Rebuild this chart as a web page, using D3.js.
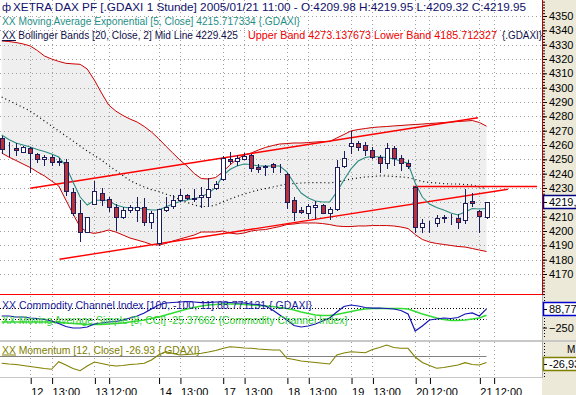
<!DOCTYPE html>
<html>
<head>
<meta charset="utf-8">
<script src="https://cdn.jsdelivr.net/npm/d3@7"></script>
<style>
  body { margin: 0; background: #fff; overflow: hidden; }
  svg { display: block; }
  text { font-family: "Liberation Sans", Arial, sans-serif; }
</style>
</head>
<body>
<div id="chart-area"></div>
<script>
// hourly bars, 2005/01/11 15:00 .. 2005/01/21 11:00
var opens = [4264.7,4257.5,4257.7,4255.3,4257.7,4253.5,4250,4251.4,4248.8,4248.4,
  4227.4,4212.3,4199.5,4218.6,4226.7,4222.1,4216.5,4210,4214.7,4215,
  4216.5,4206.5,4191.4,4214.7,4217.4,4221.6,4225.1,4222.8,4223.5,4224,
  4229.8,4236,4250.5,4249,4250.5,4253,4244.9,4245.3,4246.5,4245.5,
  4239.8,4221.6,4214.7,4212.3,4216.5,4218.1,4212.8,4215.1,4245.6,4259.5,
  4261.2,4260,4256.5,4251.8,4247.6,4257.7,4250.7,4247.6,4230.9,4203,
  4205.3,4205.8,4210,4210,4208.8,4207.7,4221.2,4214,4209.98];
var highs = [4266,4262,4261.2,4259,4258.8,4254.5,4253,4253,4251,4250,
  4230,4221.6,4210,4234.9,4230,4224,4218.5,4216.5,4218,4224,
  4223,4214,4215.5,4224,4225,4229,4226,4229,4231,4237.2,
  4235,4252,4254.9,4253,4254.5,4254,4246.5,4246,4247.5,4246.5,
  4240.3,4224,4217,4219,4221,4219,4217,4249.5,4256,4270,
  4262.5,4262,4258.8,4253,4261.6,4259.5,4253,4249.5,4231.5,4208.6,
  4207,4211,4211.5,4212,4211.6,4229,4226.4,4214.7,4219.95];
var lows = [4254.2,4252,4253,4255,4241.4,4248.3,4246,4246,4246,4225.1,
  4211,4193.2,4199,4218.6,4218,4214,4200.7,4209,4213,4207.2,
  4204.5,4201.9,4190.5,4214,4216,4221,4222,4221,4217,4217.4,
  4229,4235.5,4247.2,4246,4250,4242,4241,4239,4241,4241,
  4215.8,4207.7,4212.5,4209,4209,4212.5,4208.2,4214.5,4244.5,4254.2,
  4256.5,4253,4251,4241.4,4244.3,4246,4242.6,4244,4199.5,4199.5,
  4199.5,4203.5,4206,4205,4201.9,4205.3,4217.4,4199.5,4209.32];
var closes = [4257,4257,4256.5,4258.4,4254.2,4250,4251.4,4248,4248.4,4228.1,
  4212.3,4199.5,4209.5,4227.9,4221.6,4217,4210,4214.7,4216.5,4216.5,
  4206.5,4212.3,4215.1,4216.5,4221.6,4225.1,4222.8,4222.5,4225.1,4229.3,
  4232.6,4250.7,4249,4251,4252.3,4243.7,4243.5,4244.4,4244.9,4245,
  4220.4,4213.5,4213,4217.4,4218.1,4212.8,4215.1,4244.4,4250.7,4261.2,
  4258.8,4256.5,4251.8,4247.2,4257.7,4250.7,4247.2,4245.6,4203,4205.3,
  4205.5,4208.8,4209,4209.5,4206,4219.8,4219.8,4210.7,4219.95];

var emaValues = [4267.0,4263.8,4261.4,4260.0,4258.6,4256.9,4255.5,4253.7,4251.6,4245.3,
  4234.2,4223.7,4218.1,4221.3,4221.6,4221.3,4218.1,4216.7,4216.0,4216.0,
  4215.3,4214.7,4214.7,4216.7,4218.8,4220.6,4221.6,4222.7,4223.7,4226.5,
  4230.3,4238.4,4242.9,4245.3,4246.7,4246.4,4245.3,4245.3,4245.3,4245.3,
  4241.2,4233.5,4226.5,4223.0,4220.9,4220.2,4220.2,4227.2,4235.6,4243.3,
  4248.8,4251.3,4252.0,4251.6,4251.3,4250.2,4248.8,4247.1,4233.5,4223.7,
  4218.8,4216.4,4214.7,4212.6,4211.2,4213.3,4215.7,4215.3,4215.717];
var bbUpper = [4332.6,4332.2,4331.5,4330.5,4329.1,4325.9,4322.1,4320.0,4318.3,4317.0,
  4316.6,4316.3,4313.0,4305.3,4296.3,4287.9,4283.7,4280.6,4278.1,4276.0,
  4272.9,4269.1,4264.5,4259.3,4254.4,4249.5,4245.3,4240.1,4236.6,4236.3,
  4237.3,4241.2,4246.0,4250.2,4253.0,4254.4,4256.5,4258.3,4259.6,4260.7,
  4261.0,4261.4,4261.4,4261.7,4262.1,4262.4,4262.4,4264.9,4267.3,4269.8,
  4270.8,4271.5,4272.2,4272.6,4272.9,4273.3,4273.6,4274.0,4274.3,4274.6,
  4275.0,4275.3,4275.7,4276.0,4276.4,4276.7,4277.1,4275.7,4273.138];
var bbMid = [4293.5,4291.0,4288.6,4286.2,4283.7,4280.2,4276.7,4273.3,4269.8,4266.3,
  4262.8,4259.3,4255.8,4252.7,4249.5,4245.7,4242.2,4238.7,4235.2,4232.8,
  4230.7,4228.9,4227.6,4225.8,4224.1,4222.0,4219.9,4218.1,4217.1,4217.1,
  4218.1,4220.2,4222.3,4224.1,4225.8,4227.2,4228.6,4229.6,4230.7,4231.7,
  4232.8,4233.1,4233.5,4233.8,4233.8,4233.8,4233.5,4234.2,4235.2,4236.3,
  4237.0,4237.7,4238.0,4238.4,4238.4,4238.0,4237.7,4237.3,4236.0,4234.6,
  4233.8,4233.5,4233.1,4232.8,4232.8,4232.4,4232.1,4230.7,4229.425];
var bbLower = [4254.4,4251.6,4249.2,4246.7,4244.3,4241.2,4238.4,4234.9,4231.4,4221.6,
  4211.9,4202.8,4199.3,4198.3,4199.3,4200.7,4199.3,4197.2,4195.1,4193.7,
  4192.3,4190.6,4190.2,4191.3,4193.0,4194.4,4195.8,4197.2,4199.3,4199.3,
  4199.3,4200.0,4198.6,4197.9,4198.6,4200.0,4200.7,4201.0,4202.1,4203.1,
  4204.5,4204.9,4205.6,4205.6,4205.6,4205.2,4204.5,4203.5,4203.1,4203.1,
  4203.5,4203.5,4203.8,4203.8,4203.8,4203.5,4202.8,4201.7,4197.5,4194.1,
  4192.3,4191.3,4190.6,4189.9,4189.2,4188.8,4187.8,4186.7,4185.712];

var cciValues = [-40,-40,-58,-58,-76,-85,-104,-131,-176,-231,
  -258,-258,-240,-185,-167,-149,-140,-113,-76,-40,
  15,87,160,196,205,215,224,215,205,205,
  215,215,205,196,196,178,169,142,69,-22,
  -113,-213,-240,-222,-185,-131,-76,33,133,160,
  142,115,105,105,96,87,60,-4,-313,-222,
  -113,-95,-76,-85,-67,-4,15,-40,88.77];
var cciSma = [-149,-149,-149,-149,-149,-149,-149,-149,-158,-167,
  -176,-185,-195,-195,-195,-185,-176,-167,-149,-131,
  -113,-85,-58,-22,15,51,87,115,142,160,
  169,178,178,178,169,160,151,142,133,115,
  96,69,33,5,-22,-31,-31,-13,15,42,
  69,87,96,96,96,96,96,87,42,-4,
  -40,-76,-104,-122,-122,-113,-95,-76,-25.38];
var momValues = [-30.4,-33.3,-35.4,-39.6,-43.8,-47.9,-52.1,-55.4,-23.8,-37.5,
  -52.1,-61.3,-41.7,-25.0,-31.3,-37.5,-41.7,-39.6,-35.4,-33.3,
  -30.4,-16.7,4.2,17.9,10.4,4.2,6.3,8.3,11.3,16.7,
  22.9,31.3,38.8,36.3,33.3,32.1,29.2,27.1,25.0,25.0,
  -9.6,-14.6,-20.8,-23.8,-27.1,-30.4,-33.3,4.2,12.5,17.9,
  15.8,13.8,27.1,35.4,45.8,35.4,32.1,32.1,-4.2,-27.1,
  -39.6,-51.3,-47.9,-42.9,-37.5,-27.9,-35.4,-37.5,-26.93];

// bar index of each time-axis tick and its label
var tickBars = [4, 7, 13, 15, 22, 25, 31, 34, 40, 43, 49, 52, 58, 60, 67, 69];
var tickLabels = ["12", "13:00", "13", "12:00", "14", "13:00", "17", "13:00",
  "18", "13:00", "19", "13:00", "20", "12:00", "21", "12:00"];
var priceTicks = [4170, 4180, 4190, 4200, 4210, 4220, 4230, 4240, 4250, 4260,
  4270, 4280, 4290, 4300, 4310, 4320, 4330, 4340, 4350];
// 4220 sits under the last-price box, so it gets no label
var priceLabels = [4170, 4180, 4190, 4200, 4210, 4230, 4240, 4250, 4260,
  4270, 4280, 4290, 4300, 4310, 4320, 4330, 4340, 4350];

// drawn trend lines: [bar, price, bar, price]
var trendLines = [[4, 4229.8, 66.8, 4279.0], [8.1, 4180.3, 71, 4229.1], [57.7, 4231, 75.1, 4231]];

var W = 576, H = 395, plotRight = 542;

var svg = d3.select("#chart-area")
  .append("svg")
    .attr("width", W)
    .attr("height", H);

svg.append("rect").attr("width", W).attr("height", H).attr("fill", "#fff");
svg.append("rect").attr("x", plotRight).attr("width", W - plotRight).attr("height", H).attr("fill", "#ece9d8");

var defs = svg.append("defs");
function addClip(id, y, h) {
  defs.append("clipPath").attr("id", id)
    .append("rect").attr("x", 0).attr("y", y).attr("width", plotRight).attr("height", h);
}
addClip("clip-main", 0, 294);
addClip("clip-cci", 296, 44);
addClip("clip-mom", 342, 36);

var x = d3.scaleLinear().domain([0, closes.length - 1]).range([1.7, 486.5]);
var yP = d3.scaleLinear().domain([4170, 4350]).range([274, 16]);
var yC = d3.scaleLinear().domain([-100, 100]).range([319.3, 308.3]);
var yM = d3.scaleLinear().domain([-50, 0]).range([368, 356]);
var bars = d3.range(closes.length);
var px = (i) => Math.round(x(i)) + 0.5;

var gMain = svg.append("g").attr("clip-path", "url(#clip-main)");
var gCci = svg.append("g").attr("clip-path", "url(#clip-cci)");
var gMom = svg.append("g").attr("clip-path", "url(#clip-mom)");

// bollinger fill
gMain.append("path")
  .datum(bars)
  .attr("fill", "#efefef")
  .attr("d", d3.area().x((i) => x(i)).y0((i) => yP(bbLower[i])).y1((i) => yP(bbUpper[i])));

// dotted grid
function vGrid(g, y0, y1) {
  g.selectAll(null).data(tickBars).enter().append("line")
    .attr("x1", (d) => px(d)).attr("x2", (d) => px(d))
    .attr("y1", y0).attr("y2", y1)
    .attr("stroke", "#a0a0a0").attr("stroke-dasharray", "1,3");
}
vGrid(gMain, 0, 294);
vGrid(gCci, 296, 340);
vGrid(gMom, 342, 378);
gMain.selectAll(null).data(priceTicks).enter().append("line")
  .attr("x1", 0).attr("x2", plotRight)
  .attr("y1", (d) => Math.round(yP(d)) + 0.5).attr("y2", (d) => Math.round(yP(d)) + 0.5)
  .attr("stroke", "#a0a0a0").attr("stroke-dasharray", "1,3");

var lineOf = (arr, y) => d3.line().x((i) => x(i)).y((i) => y(arr[i]));

gMain.append("path").datum(bars).attr("fill", "none").attr("stroke", "#cc0000").attr("stroke-width", 1)
  .attr("d", lineOf(bbUpper, yP));
gMain.append("path").datum(bars).attr("fill", "none").attr("stroke", "#cc0000").attr("stroke-width", 1)
  .attr("d", lineOf(bbLower, yP));
gMain.append("path").datum(bars).attr("fill", "none").attr("stroke", "#000").attr("stroke-width", 1.2)
  .attr("stroke-dasharray", "1,3")
  .attr("d", lineOf(bbMid, yP));

gMain.selectAll(".trend").data(trendLines).enter().append("line")
  .attr("class", "trend")
  .attr("x1", (d) => x(d[0])).attr("y1", (d) => yP(d[1]))
  .attr("x2", (d) => x(d[2])).attr("y2", (d) => yP(d[3]))
  .attr("stroke", "#ff0000").attr("stroke-width", 1.4);

gMain.append("path").datum(bars).attr("fill", "none").attr("stroke", "#2a8c82").attr("stroke-width", 1.1)
  .attr("d", lineOf(emaValues, yP));

// candles
gMain.selectAll(".wick").data(bars).enter().append("line")
  .attr("class", "wick")
  .attr("x1", (i) => px(i)).attr("x2", (i) => px(i))
  .attr("y1", (i) => Math.round(yP(highs[i]))).attr("y2", (i) => Math.round(yP(lows[i])) + 1)
  .attr("stroke", "#1c1c5c");
gMain.selectAll(".body").data(bars).enter().append("rect")
  .attr("class", "body")
  .attr("x", (i) => px(i) - 2)
  .attr("y", (i) => Math.round(yP(Math.max(opens[i], closes[i]))) + 0.5)
  .attr("width", 4)
  .attr("height", (i) => Math.round(yP(Math.min(opens[i], closes[i]))) - Math.round(yP(Math.max(opens[i], closes[i]))))
  .attr("fill", (i) => closes[i] >= opens[i] ? "#fff" : "#b8323c")
  .attr("stroke", "#1c1c5c");

// main panel frame (selected panel in red)
svg.append("line").attr("x1", 0).attr("x2", plotRight).attr("y1", 294.5).attr("y2", 294.5).attr("stroke", "#ff0000");
svg.append("line").attr("x1", plotRight + 0.5).attr("x2", plotRight + 0.5).attr("y1", 0).attr("y2", 295).attr("stroke", "#c00000");

// CCI panel
gCci.selectAll(null).data([100, -100]).enter().append("line")
  .attr("x1", 0).attr("x2", x(closes.length - 1))
  .attr("y1", (d) => Math.round(yC(d)) + 0.5).attr("y2", (d) => Math.round(yC(d)) + 0.5)
  .attr("stroke", "#000").attr("stroke-dasharray", "1,2");
gCci.append("path").datum(bars).attr("fill", "none").attr("stroke", "#33dd33").attr("stroke-width", 1.5)
  .attr("d", lineOf(cciSma, yC));
gCci.append("path").datum(bars).attr("fill", "none").attr("stroke", "#1414b4").attr("stroke-width", 1.2)
  .attr("d", lineOf(cciValues, yC));

// momentum panel
gMom.append("line").attr("x1", 0).attr("x2", x(closes.length - 1))
  .attr("y1", Math.round(yM(0)) + 0.5).attr("y2", Math.round(yM(0)) + 0.5)
  .attr("stroke", "#808080");
gMom.append("path").datum(bars).attr("fill", "none").attr("stroke", "#808000").attr("stroke-width", 1.1)
  .attr("d", lineOf(momValues, yM));

// panel separators
svg.append("rect").attr("x", 0).attr("y", 340).attr("width", W).attr("height", 2).attr("fill", "#c8c8c8");
svg.append("line").attr("x1", 0).attr("x2", plotRight).attr("y1", 377.5).attr("y2", 377.5).attr("stroke", "#c8c8c8");
svg.append("line").attr("x1", plotRight + 0.5).attr("x2", plotRight + 0.5).attr("y1", 295).attr("y2", 378).attr("stroke", "#b0b0b0");

// legends
function label(txt, xPos, yPos, len, color) {
  return svg.append("text").attr("x", xPos).attr("y", yPos)
    .attr("font-size", "11px").attr("fill", color)
    .attr("textLength", len).attr("lengthAdjust", "spacingAndGlyphs")
    .text(txt);
}
svg.append("text").attr("x", 2).attr("y", 11).attr("font-size", "11px").attr("fill", "#10106a").text("ф");
label("XETRA DAX PF [.GDAXI  1 Stunde] 2005/01/21 11:00 - O:4209.98 H:4219.95 L:4209.32 C:4219.95", 13, 11, 513, "#10106a");
label("XX Moving Average Exponential [5, Close] 4215.717334 {.GDAXI}", 2, 25, 298, "#1f8f86");
label("XX Bollinger Bands [20, Close, 2] Mid Line 4229.425", 2, 39, 236, "#10104a");
label("Upper Band 4273.137673 Lower Band 4185.712327", 248, 39, 249, "#ee0000");
label("{.GDAXI}", 502, 39, 40, "#10104a");
svg.append("line").attr("x1", 2).attr("x2", 16).attr("y1", 40.5).attr("y2", 40.5).attr("stroke", "#10104a");

label("XX Commodity Channel Index [100, -100, 11] 88.771131 {.GDAXI}", 2, 309, 310, "#1a1a9a");
label("XX Moving Average Simple [8, CCI] -25.37662 {Commodity Channel Index}", 2, 323.5, 346, "#33cc33");
label("XX Momentum [12, Close] -26.93 {.GDAXI}", 2, 353.5, 198, "#808000");
svg.append("line").attr("x1", 2).attr("x2", 16).attr("y1", 355).attr("y2", 355).attr("stroke", "#808000");

// price axis
var minorTicks = d3.axisRight(yP).tickValues(d3.range(4156, 4362, 2)).tickSize(2).tickFormat("");
svg.append("g").attr("transform", "translate(" + (plotRight + 1) + ",0)").call(minorTicks)
  .call((g) => g.select(".domain").remove());
var priceAxis = d3.axisRight(yP).tickValues(priceLabels).tickSize(4).tickPadding(2).tickFormat(d3.format("d"));
svg.append("g")
  .attr("class", "price axis")
  .attr("transform", "translate(" + (plotRight + 1) + ",0)")
  .call(priceAxis)
  .call((g) => g.select(".domain").remove())
  .selectAll("text")
    .attr("font-size", "11px")
    .attr("font-family", "Liberation Sans, Arial, sans-serif")
    .attr("fill", "#000");

// value boxes on the right
function valueBox(yMid, txt, color) {
  svg.append("rect").attr("x", plotRight + 1.5).attr("y", Math.round(yMid) - 6.5)
    .attr("width", 40).attr("height", 13)
    .attr("fill", "#fff").attr("stroke", color).attr("stroke-width", 1.5);
  svg.append("line").attr("x1", plotRight + 2).attr("x2", plotRight + 5)
    .attr("y1", Math.round(yMid) + 0.5).attr("y2", Math.round(yMid) + 0.5).attr("stroke", "#000");
  svg.append("text").attr("x", plotRight + 7).attr("y", Math.round(yMid) + 4)
    .attr("font-size", "11px").attr("fill", "#000").text(txt);
}
valueBox(yP(closes[closes.length - 1]), "4219,95", "#000080");

// CCI axis
svg.append("line").attr("x1", plotRight + 2.5).attr("x2", plotRight + 2.5).attr("y1", 297).attr("y2", 339)
  .attr("stroke", "#000").attr("stroke-dasharray", "1,2");
svg.append("g")
  .attr("transform", "translate(" + (plotRight + 1) + ",0)")
  .call(d3.axisRight(yC).tickValues([-250]).tickSize(4).tickPadding(2))
  .call((g) => g.select(".domain").remove())
  .selectAll("text").attr("font-size", "11px").attr("fill", "#000");
valueBox(yC(cciValues[cciValues.length - 1]), "88,77", "#0000cc");

// momentum axis
svg.append("line").attr("x1", plotRight + 2.5).attr("x2", plotRight + 2.5).attr("y1", 343).attr("y2", 377)
  .attr("stroke", "#000").attr("stroke-dasharray", "1,2");
svg.append("text").attr("x", 567).attr("y", 353).attr("font-size", "10px").attr("fill", "#000").text("M");
valueBox(yM(momValues[momValues.length - 1]) + 1.5, "-26,93", "#808000");

// time axis
var timeAxis = d3.axisBottom(x).tickValues(tickBars).tickSize(6).tickPadding(4)
  .tickFormat((d, i) => tickLabels[i]);
svg.append("g")
  .attr("class", "bottom axis")
  .attr("transform", "translate(0.5, 378)")
  .call(timeAxis)
  .call((g) => g.select(".domain").remove())
  .selectAll("text")
    .attr("font-size", "11px")
    .attr("fill", "#000")
    .attr("text-anchor", "start")
    .attr("x", 0);
</script>
</body>
</html>
